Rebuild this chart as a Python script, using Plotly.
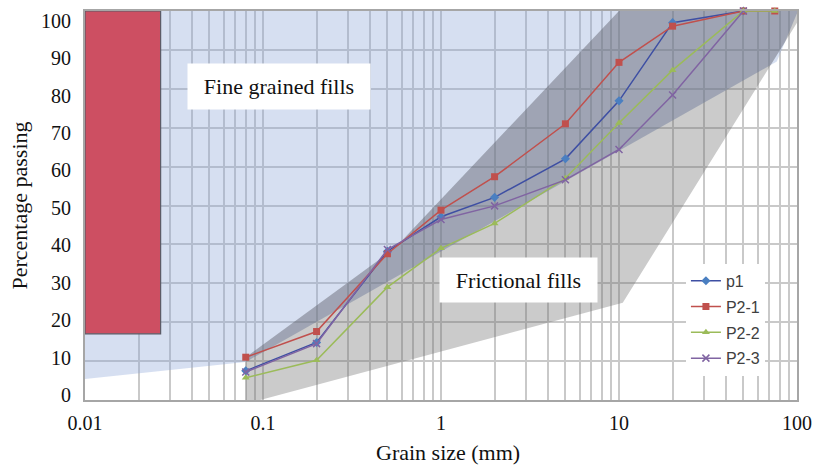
import numpy as np
import plotly.graph_objects as go

# ---------------- data ----------------
grain_sizes = [0.08, 0.2, 0.5, 1, 2, 5, 10, 20, 50, 75]
p1 =   [7.5, 14.8, 38.2, 47.1, 52.1, 62.0, 76.9, 97.0, 100, None]
p2_1 = [11.0, 17.6, 37.6, 48.8, 57.4, 71.0, 86.8, 96.1, 100, 100]
p2_2 = [5.7, 10.2, 29.0, 39.0, 45.4, 57.0, 71.2, 84.8, 100, 100]
p2_3 = [7.2, 14.5, 38.7, 46.4, 49.9, 56.6, 64.4, 78.4, 100, None]

series_names = ["p1", "P2-1", "P2-2", "P2-3"]

# envelope of "Fine grained fills" (grain size mm, % passing)
fine_x = [0.01, 0.01, 100, 100, 77, 0.08]
fine_y = [5.4, 100, 100, 99.4, 87, 9.8]
# envelope of "Frictional fills"
fric_x = [0.08, 0.08, 0.55, 10, 100, 100, 10.5]
fric_y = [-1, 11, 39, 100, 100, 97, 25]
# red zone
red_x = [0.01, 0.0266]
red_y = [17, 100]

x_decades = [0.01, 0.1, 1, 10, 100]
y_ticks = list(range(0, 101, 10))

# ---------------- helpers ----------------
def clip_polygon(subject, clipper):
    """Sutherland-Hodgman clip of subject by convex clockwise clipper (log-x space)."""
    def inside(p, a, b):
        return (b[0]-a[0])*(p[1]-a[1]) - (b[1]-a[1])*(p[0]-a[0]) <= 0
    def intersect(p, q, a, b):
        x1, y1 = p; x2, y2 = q; x3, y3 = a; x4, y4 = b
        den = (x1-x2)*(y3-y4) - (y1-y2)*(x3-x4)
        t = ((x1-x3)*(y3-y4) - (y1-y3)*(x3-x4)) / den
        return (x1 + t*(x2-x1), y1 + t*(y2-y1))
    out = list(subject)
    n = len(clipper)
    for i in range(n):
        a, b = clipper[i], clipper[(i+1) % n]
        inp = out
        out = []
        if not inp:
            break
        s = inp[-1]
        for e in inp:
            if inside(e, a, b):
                if not inside(s, a, b):
                    out.append(intersect(s, e, a, b))
                out.append(e)
            elif inside(s, a, b):
                out.append(intersect(s, e, a, b))
            s = e
    return out

fine_poly = [(np.log10(x), y) for x, y in zip(fine_x, fine_y)]
fric_poly = [(np.log10(x), y) for x, y in zip(fric_x, fric_y)]
over = clip_polygon(fric_poly, fine_poly)
over_x = [10**p[0] for p in over]
over_y = [p[1] for p in over]

fig = go.Figure()

def area(xs, ys, color, line=None):
    fig.add_trace(go.Scatter(
        x=list(xs) + [xs[0]], y=list(ys) + [ys[0]], mode="lines", fill="toself",
        fillcolor=color, line=line or dict(width=0), hoverinfo="skip",
        showlegend=False))

area(fine_x, fine_y, "rgba(140,165,215,0.36)")
area(fric_x, fric_y, "rgba(110,110,110,0.36)")
area(over_x, over_y, "rgba(60,70,100,0.15)")
area([red_x[0], red_x[1], red_x[1], red_x[0]], [red_y[0], red_y[0], red_y[1], red_y[1]],
     "rgb(205,79,98)", line=dict(color="#5b5b66", width=1.2))

styles = [
    dict(line="#3e4fa3", marker="#4a7fc1", symbol="diamond", size=7),
    dict(line="#c0504d", marker="#c0504d", symbol="square", size=7),
    dict(line="#9bbb59", marker="#9bbb59", symbol="triangle-up", size=7),
    dict(line="#8064a2", marker="#8064a2", symbol="x-thin", size=7),
]
for name, vals, st in zip(series_names, [p1, p2_1, p2_2, p2_3], styles):
    mk = dict(color=st["marker"], symbol=st["symbol"], size=st["size"])
    if st["symbol"] == "x-thin":
        mk["line"] = dict(color=st["marker"], width=1.5)
    fig.add_trace(go.Scatter(
        x=grain_sizes, y=vals, name=name, legendgroup=name, mode="lines+markers",
        line=dict(color=st["line"], width=1.5), marker=mk, connectgaps=False,
        cliponaxis=False))

# dummy trace for label axis
fig.add_trace(go.Scatter(x=[1], y=[50], yaxis="y2", mode="markers",
                         marker=dict(opacity=0), showlegend=False, hoverinfo="skip"))

serif = "Liberation Serif, Times New Roman, serif"
grid = "#c9c9c9"

xticks = []
xtext = []
for d in x_decades[:-1]:
    for k in range(1, 10):
        xticks.append(d*k)
        xtext.append(("%g" % d) if k == 1 else "")
xticks.append(100)
xtext.append("100")

fig.update_layout(
    width=813, height=466, autosize=False,
    margin=dict(l=85, r=16, t=11, b=66, autoexpand=False),
    paper_bgcolor="white", plot_bgcolor="white",
    font=dict(family=serif, size=20, color="#111111"),
    xaxis=dict(type="log", range=[-2, 2], tickvals=xticks, ticktext=xtext,
               showgrid=True, gridcolor=grid, gridwidth=1.5, automargin=False,
               showline=True, linecolor="#a6a6a6", linewidth=1.5, mirror=True,
               ticks="", ticklabelstandoff=4, zeroline=False,
               tickfont=dict(family=serif, size=20, color="#111111")),
    yaxis=dict(range=[0, 100], tickvals=y_ticks, showticklabels=False,
               showgrid=True, gridcolor=grid, gridwidth=1.5, automargin=False,
               showline=True, linecolor="#a6a6a6", linewidth=1.5, mirror=True,
               ticks="", zeroline=False),
    yaxis2=dict(overlaying="y", side="left", range=[-1.34, 102.6], tickvals=y_ticks,
                showgrid=False, zeroline=False, showline=False, ticks="",
                ticklabelstandoff=13, automargin=False,
                tickfont=dict(family=serif, size=20, color="#111111")),
    legend=dict(x=0.844, xanchor="left", y=0.35, yanchor="top",
                bgcolor="white", borderwidth=0, tracegroupgap=2,
                font=dict(family="Liberation Sans, Arial, sans-serif", size=16, color="#404040"),
                itemwidth=30, traceorder="grouped"),
    showlegend=True,
)

fig.add_annotation(x=np.log10(0.123), y=80.6, xref="x", yref="y",
                   text="Fine grained fills", showarrow=False,
                   bgcolor="white", width=182, height=45, borderpad=0,
                   font=dict(family=serif, size=22, color="#111111"))
fig.add_annotation(x=np.log10(2.71), y=30.8, xref="x", yref="y",
                   text="Frictional fills", showarrow=False,
                   bgcolor="white", width=157, height=44, borderpad=0,
                   font=dict(family=serif, size=22, color="#111111"))
# axis titles
fig.add_annotation(x=(448-85)/712, y=(400-453)/389, xref="paper", yref="paper",
                   text="Grain size (mm)", showarrow=False, yanchor="middle",
                   font=dict(family=serif, size=22, color="#111111"))
fig.add_annotation(x=(19-85)/712, y=0.5, xref="paper", yref="paper",
                   text="Percentage passing", showarrow=False, textangle=-90,
                   xanchor="center", yanchor="middle",
                   font=dict(family=serif, size=22, color="#111111"))

fig.write_html("out.html", config={"displayModeBar": False},
               post_script="document.body.style.margin='0';document.body.style.overflow='hidden';")
